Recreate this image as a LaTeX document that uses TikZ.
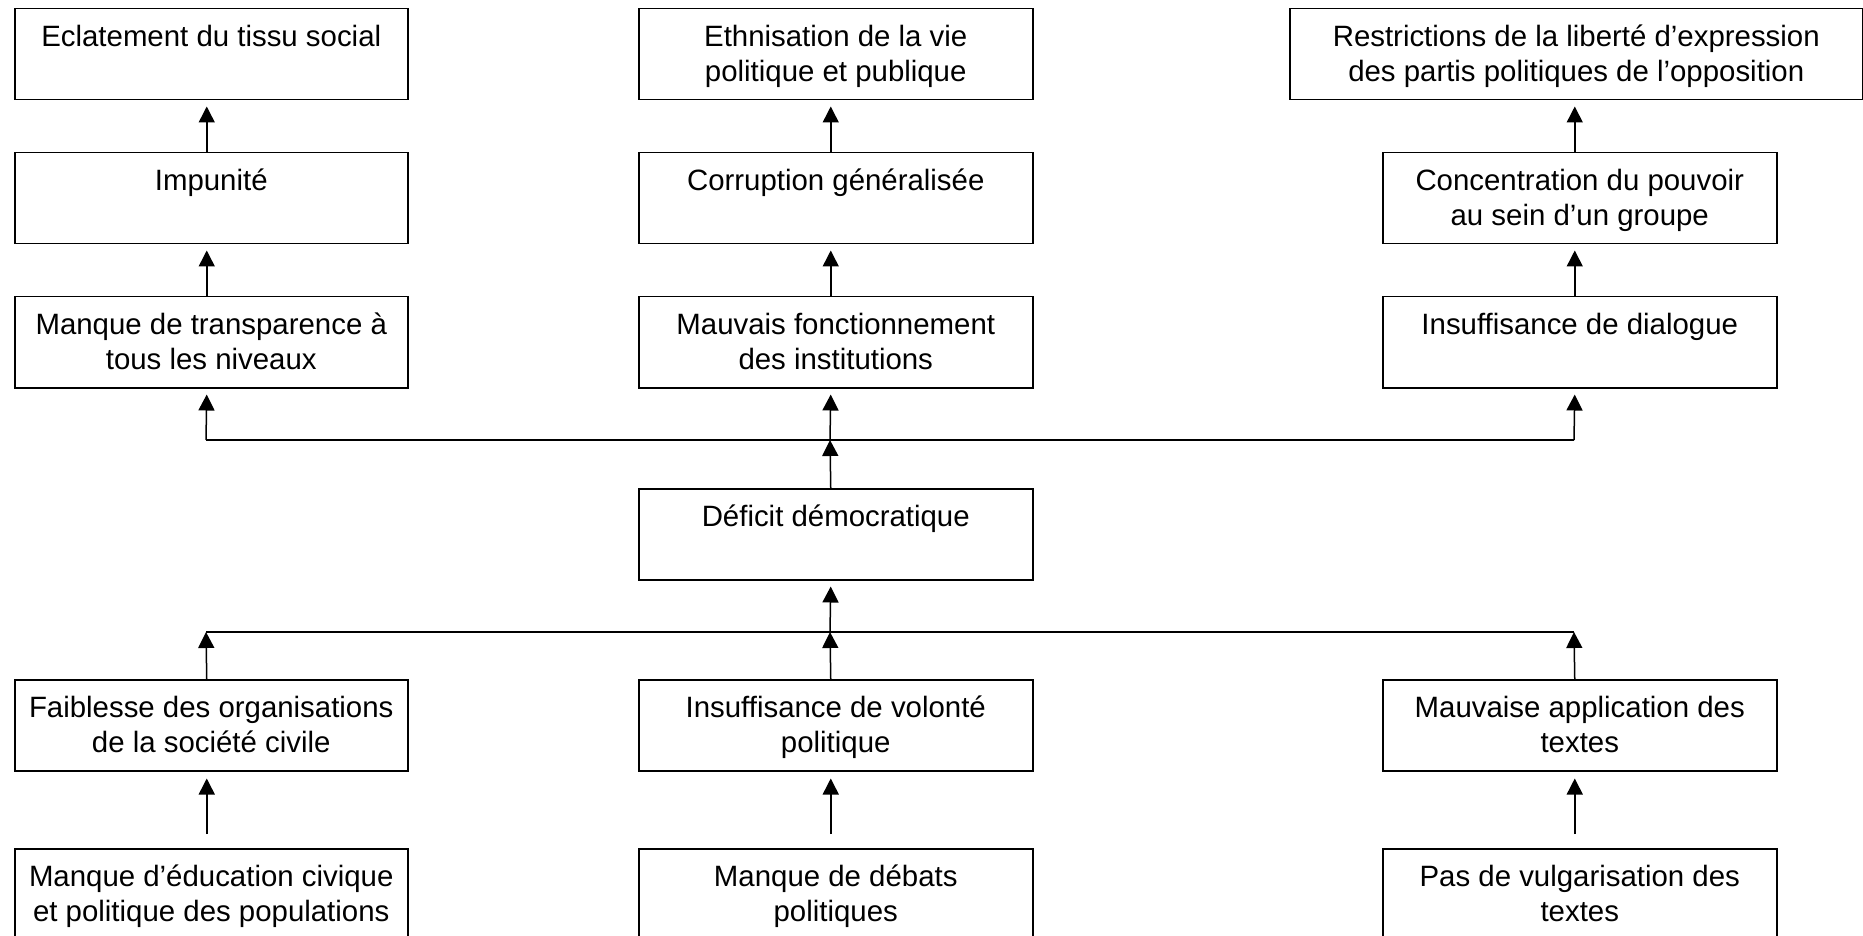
\documentclass[tikz,border=0pt]{standalone}
\usepackage{fontspec}
\setmainfont{Liberation Sans}
\usetikzlibrary{arrows.meta}

% text of a cell: top-aligned, centred lines, fixed cell height
\newcommand\celltext[2]{\parbox[c][45.5pt][t]{#1}{\centering\vspace*{6.5pt}\strut #2}}

\begin{document}
\begin{tikzpicture}[x=0.5pt, y=-0.5pt,
  cell/.style={draw, line width=0.75pt, fill=white, inner sep=0pt, anchor=north west,
               font=\fontsize{14.7pt}{17.5pt}\selectfont},
  link/.style={line width=0.75pt},
  arr/.style={line width=0.75pt, -{Triangle[length=8pt, width=8pt]}}]

\useasboundingbox (0,0) rectangle (1863,936);

% effects, top row
\node[cell] (ecl) at (14,8)   {\celltext{196.5pt}{Eclatement du tissu social}};
\node[cell] (eth) at (638,8)  {\celltext{197pt}{Ethnisation de la vie\\politique et publique}};
\node[cell] (res) at (1289,8) {\celltext{286.5pt}{Restrictions de la liberté d’expression\\des partis politiques de l’opposition}};

% effects, second row
\node[cell] (imp) at (14,152)   {\celltext{196.5pt}{Impunité}};
\node[cell] (cor) at (638,152)  {\celltext{197pt}{Corruption généralisée}};
\node[cell] (con) at (1382,152) {\celltext{197pt}{Concentration du pouvoir\\au sein d’un groupe}};

% effects, third row
\node[cell] (tra) at (14,296)   {\celltext{196.5pt}{Manque de transparence à\\tous les niveaux}};
\node[cell] (fon) at (638,296)  {\celltext{197pt}{Mauvais fonctionnement\\des institutions}};
\node[cell] (dia) at (1382,296) {\celltext{197pt}{Insuffisance de dialogue}};

% central problem
\node[cell] (def) at (638,488) {\celltext{197pt}{Déficit démocratique}};

% causes
\node[cell] (fai) at (14,679)   {\celltext{196.5pt}{Faiblesse des organisations\\de la société civile}};
\node[cell] (vol) at (638,679)  {\celltext{197pt}{Insuffisance de volonté\\politique}};
\node[cell] (app) at (1382,679) {\celltext{197pt}{Mauvaise application des\\textes}};

% root causes
\node[cell] (edu) at (14,848)   {\celltext{196.5pt}{Manque d’éducation civique\\et politique des populations}};
\node[cell] (deb) at (638,848)  {\celltext{197pt}{Manque de débats\\politiques}};
\node[cell] (vul) at (1382,848) {\celltext{197pt}{Pas de vulgarisation des\\textes}};

% distribution bars
\coordinate (upL) at (206,440);
\coordinate (upM) at (830,440);
\coordinate (upR) at (1574,440);
\coordinate (loL) at (206,632);
\coordinate (loM) at (830,632);
\coordinate (loR) at (1574,632);
\draw[link] (upL) -- (upR);
\draw[link] (loL) -- (loR);

% left column
\draw[arr] ([xshift=-2.25pt]imp.north) -- ([xshift=-2.25pt,yshift=-3pt]ecl.south);
\draw[arr] ([xshift=-2.25pt]tra.north) -- ([xshift=-2.25pt,yshift=-3pt]imp.south);
\draw[arr] (upL) -- ([xshift=-2.25pt,yshift=-3pt]tra.south);

% middle column
\draw[arr] ([xshift=-2.5pt]cor.north) -- ([xshift=-2.5pt,yshift=-3pt]eth.south);
\draw[arr] ([xshift=-2.5pt]fon.north) -- ([xshift=-2.5pt,yshift=-3pt]cor.south);
\draw[arr] (upM) -- ([xshift=-2.5pt,yshift=-3pt]fon.south);
\draw[arr] ([xshift=-2.5pt]def.north) -- (upM);
\draw[arr] (loM) -- ([xshift=-2.5pt,yshift=-3pt]def.south);

% right column
\draw[arr] ([xshift=-2.5pt]con.north) -- ([xshift=-2.5pt,yshift=-3pt]con.north |- res.south);
\draw[arr] ([xshift=-2.5pt]dia.north) -- ([xshift=-2.5pt,yshift=-3pt]con.south);
\draw[arr] (upR) -- ([xshift=-2.5pt,yshift=-3pt]dia.south);

% causes up to the lower bar
\draw[arr] ([xshift=-2.25pt]fai.north) -- (loL);
\draw[arr] ([xshift=-2.5pt]vol.north) -- (loM);
\draw[arr] ([xshift=-2.5pt]app.north) -- (loR);

% root causes up to causes
\draw[arr] ([xshift=-2.25pt,yshift=7pt]edu.north) -- ([xshift=-2.25pt,yshift=-3.5pt]fai.south);
\draw[arr] ([xshift=-2.5pt,yshift=7pt]deb.north) -- ([xshift=-2.5pt,yshift=-3.5pt]vol.south);
\draw[arr] ([xshift=-2.5pt,yshift=7pt]vul.north) -- ([xshift=-2.5pt,yshift=-3.5pt]app.south);
\end{tikzpicture}
\end{document}
